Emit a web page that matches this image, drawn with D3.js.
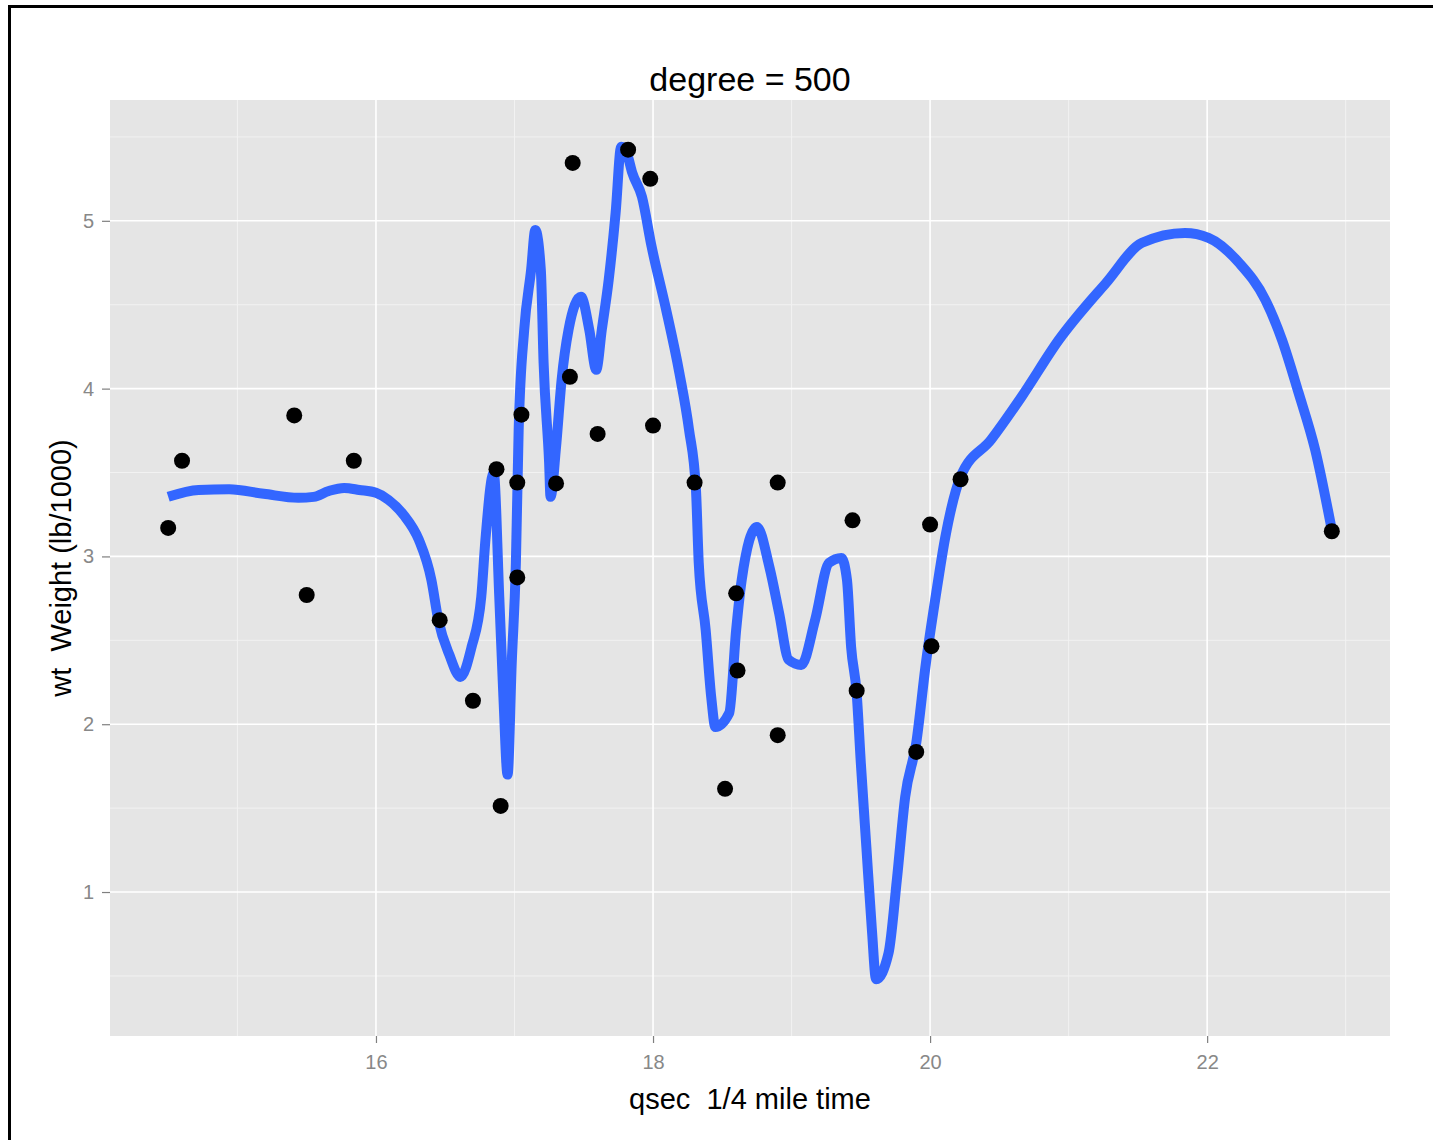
<!DOCTYPE html>
<html>
<head>
<meta charset="utf-8">
<script src="https://cdn.jsdelivr.net/npm/d3@7"></script>
<style>
  body { margin: 0; background: #fff; }
  svg text { font-family: "Liberation Sans", Arial, sans-serif; }
</style>
</head>
<body>
<div id="chart"></div>
<script>
// mtcars: quarter mile time vs weight
var qsec = [16.46, 17.02, 18.61, 19.44, 17.02, 20.22, 15.84, 20.00, 22.90, 18.30, 18.90,
            17.40, 17.60, 18.00, 17.98, 17.82, 17.42, 19.47, 18.52, 19.90, 20.01, 16.87,
            17.30, 15.41, 17.05, 18.90, 16.70, 16.90, 14.50, 15.50, 14.60, 18.60];
var wt   = [2.620, 2.875, 2.320, 3.215, 3.440, 3.460, 3.570, 3.190, 3.150, 3.440, 3.440,
            4.070, 3.730, 3.780, 5.250, 5.424, 5.345, 2.200, 1.615, 1.835, 2.465, 3.520,
            3.435, 3.840, 3.845, 1.935, 2.140, 1.513, 3.170, 2.770, 3.570, 2.780];

// fitted smooth
var fitX = [14.50, 14.72, 14.94, 15.19, 15.44, 15.55, 15.66, 15.77, 15.88, 16.00,
            16.09, 16.20, 16.31, 16.40, 16.45, 16.53, 16.61, 16.69, 16.76, 16.79,
            16.85, 16.89, 16.92, 16.95, 16.98, 17.01, 17.03, 17.07, 17.12, 17.15,
            17.19, 17.21, 17.25, 17.26, 17.30, 17.34, 17.39, 17.48, 17.54, 17.59,
            17.63, 17.68, 17.73, 17.77, 17.81, 17.85, 17.92, 17.99, 18.09, 18.19,
            18.26, 18.31, 18.33, 18.38, 18.42, 18.45, 18.55, 18.60, 18.64, 18.75,
            18.84, 18.91, 18.98, 19.07, 19.17, 19.27, 19.36, 19.40, 19.43, 19.47,
            19.50, 19.54, 19.58, 19.61, 19.70, 19.76, 19.82, 19.90, 19.97, 20.04,
            20.11, 20.22, 20.44, 20.66, 20.93, 21.27, 21.53, 21.84, 22.01, 22.23,
            22.42, 22.54, 22.66, 22.78, 22.90];
var fitY = [3.355, 3.396, 3.400, 3.373, 3.349, 3.355, 3.390, 3.408, 3.396, 3.379,
            3.337, 3.247, 3.098, 2.860, 2.621, 2.413, 2.282, 2.460, 2.759, 3.098,
            3.498, 2.759, 2.162, 1.700, 2.365, 2.961, 3.754, 4.350, 4.708, 4.946,
            4.708, 4.154, 3.557, 3.355, 3.653, 4.052, 4.350, 4.547, 4.350, 4.112,
            4.350, 4.648, 5.048, 5.441, 5.405, 5.286, 5.143, 4.845, 4.487, 4.094,
            3.754, 3.396, 2.961, 2.562, 2.162, 1.984, 2.067, 2.562, 2.860, 3.176,
            2.937, 2.663, 2.383, 2.353, 2.621, 2.961, 2.991, 2.860, 2.460, 2.186,
            1.769, 1.268, 0.774, 0.480, 0.636, 1.072, 1.566, 1.888, 2.365, 2.759,
            3.116, 3.474, 3.695, 3.951, 4.291, 4.630, 4.869, 4.928, 4.899, 4.750,
            4.529, 4.291, 3.975, 3.635, 3.158];

var xMajor = [16, 18, 20, 22];
var xMinor = [15, 17, 19, 21, 23];
var yMajor = [1, 2, 3, 4, 5];
var yMinor = [0.5, 1.5, 2.5, 3.5, 4.5, 5.5];

var xLimits = [14.08, 23.32];
var yLimits = [0.142, 5.72];

var W = 1433, H = 1140;
var panel = { left: 110, right: 1390, top: 100, bottom: 1036 };

var svg = d3.select("#chart").append("svg")
    .attr("width", W)
    .attr("height", H);

// outer frame (cut off at right and bottom)
svg.append("rect")
    .attr("x", 9.5).attr("y", 6.5)
    .attr("width", W + 20).attr("height", H + 20)
    .attr("fill", "none")
    .attr("stroke", "#000")
    .attr("stroke-width", 3);

var x = d3.scaleLinear().domain(xLimits).range([panel.left, panel.right]);
var y = d3.scaleLinear().domain(yLimits).range([panel.bottom, panel.top]);

// panel background
svg.append("rect")
    .attr("x", panel.left).attr("y", panel.top)
    .attr("width", panel.right - panel.left)
    .attr("height", panel.bottom - panel.top)
    .attr("fill", "#E5E5E5");

var grid = svg.append("g");

grid.selectAll(".vminor").data(xMinor).enter().append("line")
    .attr("x1", x).attr("x2", x)
    .attr("y1", panel.top).attr("y2", panel.bottom)
    .attr("stroke", "#F2F2F2").attr("stroke-width", 1);

grid.selectAll(".hminor").data(yMinor).enter().append("line")
    .attr("y1", y).attr("y2", y)
    .attr("x1", panel.left).attr("x2", panel.right)
    .attr("stroke", "#F2F2F2").attr("stroke-width", 1);

grid.selectAll(".vmajor").data(xMajor).enter().append("line")
    .attr("x1", x).attr("x2", x)
    .attr("y1", panel.top).attr("y2", panel.bottom)
    .attr("stroke", "#fff").attr("stroke-width", 1.6);

grid.selectAll(".hmajor").data(yMajor).enter().append("line")
    .attr("y1", y).attr("y2", y)
    .attr("x1", panel.left).attr("x2", panel.right)
    .attr("stroke", "#fff").attr("stroke-width", 1.6);

// axes
var xAxis = d3.axisBottom(x).tickValues(xMajor).tickSize(7).tickPadding(12)
    .tickFormat(d3.format("d"));
var yAxis = d3.axisLeft(y).tickValues(yMajor).tickSize(8).tickPadding(8)
    .tickFormat(d3.format("d"));

var gx = svg.append("g")
    .attr("transform", "translate(0," + panel.bottom + ")")
    .call(xAxis);
var gy = svg.append("g")
    .attr("transform", "translate(" + panel.left + ",0)")
    .call(yAxis);

[gx, gy].forEach(function (g) {
    g.select(".domain").remove();
    g.selectAll(".tick line").attr("stroke", "#7F7F7F").attr("stroke-width", 1.2);
    g.selectAll(".tick text")
        .attr("fill", "#888888")
        .style("font-size", "20px")
        .style("font-family", "'Liberation Sans', Arial, sans-serif");
});

// smooth line
var pts = fitX.map(function (d, i) { return [d, fitY[i]]; });
svg.append("path")
    .datum(pts)
    .attr("d", d3.line()
        .curve(d3.curveMonotoneX)
        .x(function (d) { return x(d[0]); })
        .y(function (d) { return y(d[1]); }))
    .attr("fill", "none")
    .attr("stroke", "#3366FF")
    .attr("stroke-width", 10)
    .attr("stroke-linejoin", "round")
    .attr("stroke-linecap", "butt");

// points
svg.append("g").selectAll("circle")
    .data(qsec.map(function (d, i) { return [d, wt[i]]; }))
    .enter().append("circle")
    .attr("cx", function (d) { return x(d[0]); })
    .attr("cy", function (d) { return y(d[1]); })
    .attr("r", 8)
    .attr("fill", "#000");

// titles
var cx = (panel.left + panel.right) / 2;
svg.append("text")
    .attr("x", cx).attr("y", 91)
    .attr("text-anchor", "middle")
    .style("font-size", "34px")
    .attr("fill", "#000")
    .text("degree = 500");

svg.append("text")
    .attr("x", cx).attr("y", 1109)
    .attr("text-anchor", "middle")
    .style("font-size", "29px")
    .attr("fill", "#000")
    .attr("xml:space", "preserve")
    .text("qsec  1/4 mile time");

svg.append("text")
    .attr("transform", "translate(71," + (panel.top + panel.bottom) / 2 + ") rotate(-90)")
    .attr("text-anchor", "middle")
    .style("font-size", "29px")
    .attr("fill", "#000")
    .attr("xml:space", "preserve")
    .text("wt  Weight (lb/1000)");
</script>
</body>
</html>
